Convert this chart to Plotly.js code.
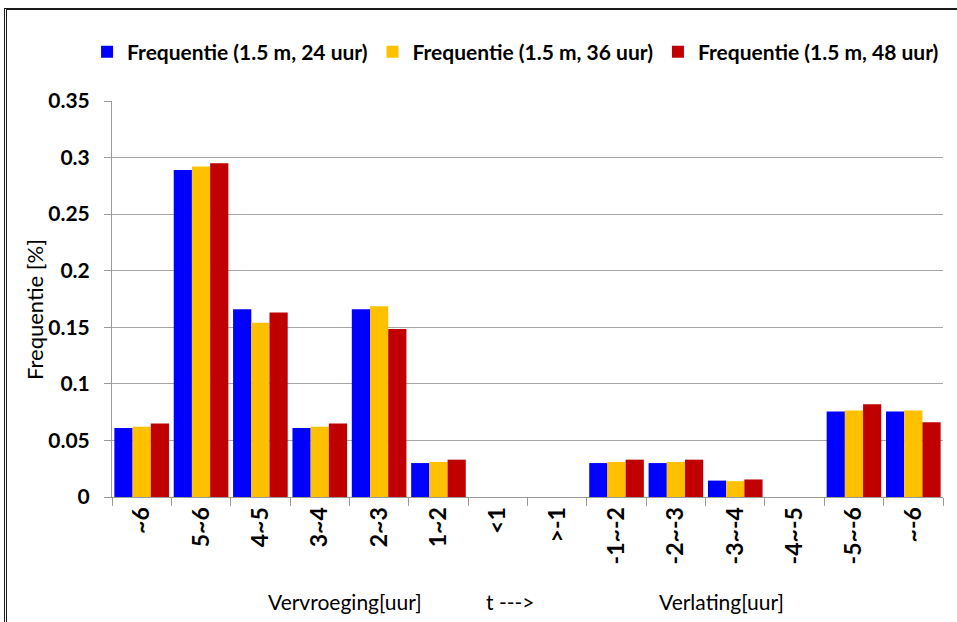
<!DOCTYPE html>
<html>
<head>
<meta charset="utf-8">
<script src="https://cdn.plot.ly/plotly-3.0.1.min.js"></script>
<style>
  html, body { margin: 0; padding: 0; background: #fff; }
  #chart { width: 957px; height: 622px; }
  #frame { position: absolute; left: 4px; top: 8px; width: 1000px; height: 700px;
           border-top: 2px solid #1a1a1a; border-left: 3px double #1a1a1a; pointer-events: none; }
</style>
</head>
<body>
<div id="chart"></div>
<div id="frame"></div>
<script>
const categories = ["~6", "5~6", "4~5", "3~4", "2~3", "1~2", "<1", ">-1",
                    "-1~-2", "-2~-3", "-3~-4", "-4~-5", "-5~-6", "~-6"];
const seriesNames = ["Frequentie (1.5 m, 24 uur)", "Frequentie (1.5 m, 36 uur)", "Frequentie (1.5 m, 48 uur)"];
const freq24 = [0.061, 0.289, 0.166, 0.061, 0.166, 0.030, 0, 0, 0.030, 0.030, 0.0145, 0, 0.0755, 0.0755];
const freq36 = [0.062, 0.292, 0.154, 0.062, 0.1685, 0.031, 0, 0, 0.031, 0.031, 0.014, 0, 0.0765, 0.0765];
const freq48 = [0.065, 0.295, 0.163, 0.065, 0.1485, 0.033, 0, 0, 0.033, 0.033, 0.0155, 0, 0.082, 0.066];
const colors = ["#0000FF", "#FFC000", "#C00000"];
const yTitle = "Frequentie [%]";
const bottomLabels = ["Vervroeging[uur]", "t --->", "Verlating[uur]"];

const seriesValues = [freq24, freq36, freq48];
const traces = seriesValues.map((vals, i) => ({
  type: "bar",
  name: seriesNames[i],
  x: categories,
  y: vals,
  marker: { color: colors[i], line: { width: 0 } }
}));

const FONT = "Lato, 'Open Sans', sans-serif";
const layout = {
  width: 957, height: 622,
  margin: { l: 112, r: 14, t: 101, b: 125 },
  paper_bgcolor: "#ffffff",
  plot_bgcolor: "#ffffff",
  barmode: "group",
  bargap: 0.08,
  bargroupgap: 0,
  showlegend: true,
  legend: {
    orientation: "h",
    x: -0.03, xanchor: "left",
    y: 1.175, yanchor: "top",
    font: { family: FONT, size: 21, color: "#000", weight: "bold" },
    itemclick: false
  },
  xaxis: {
    type: "category",
    tickangle: -90,
    tickfont: { family: FONT, size: 23, color: "#000", weight: "bold" },
    ticks: "outside",
    tickson: "boundaries",
    ticklen: 8,
    tickcolor: "#9a9a9a",
    showline: true,
    linecolor: "#9a9a9a",
    linewidth: 1,
    showgrid: false,
    fixedrange: true
  },
  yaxis: {
    range: [0, 0.35],
    dtick: 0.05,
    tick0: 0,
    tickfont: { family: FONT, size: 21, color: "#000", weight: "bold" },
    ticks: "outside",
    ticklen: 7,
    tickcolor: "#9a9a9a",
    ticklabelstandoff: 10,
    showline: true,
    linecolor: "#9a9a9a",
    linewidth: 1,
    showgrid: true,
    gridcolor: "#a6a6a6",
    gridwidth: 1,
    zeroline: false,
    fixedrange: true
  },
  annotations: [
    { text: yTitle, xref: "paper", yref: "paper", x: (34 - 112) / 831, y: (497 - 310) / 396,
      textangle: -90, showarrow: false, xanchor: "center", yanchor: "middle",
      font: { family: FONT, size: 22, color: "#000" } },
    { text: bottomLabels[0], xref: "paper", yref: "paper", x: (345 - 112) / 831, y: -(601 - 497) / 396,
      showarrow: false, xanchor: "center", yanchor: "middle",
      font: { family: FONT, size: 21, color: "#000" } },
    { text: bottomLabels[1], xref: "paper", yref: "paper", x: (510 - 112) / 831, y: -(601 - 497) / 396,
      showarrow: false, xanchor: "center", yanchor: "middle",
      font: { family: FONT, size: 21, color: "#000" } },
    { text: bottomLabels[2], xref: "paper", yref: "paper", x: (721 - 112) / 831, y: -(601 - 497) / 396,
      showarrow: false, xanchor: "center", yanchor: "middle",
      font: { family: FONT, size: 21, color: "#000" } }
  ]
};

Plotly.newPlot("chart", traces, layout, { displayModeBar: false, staticPlot: true });
</script>
</body>
</html>
